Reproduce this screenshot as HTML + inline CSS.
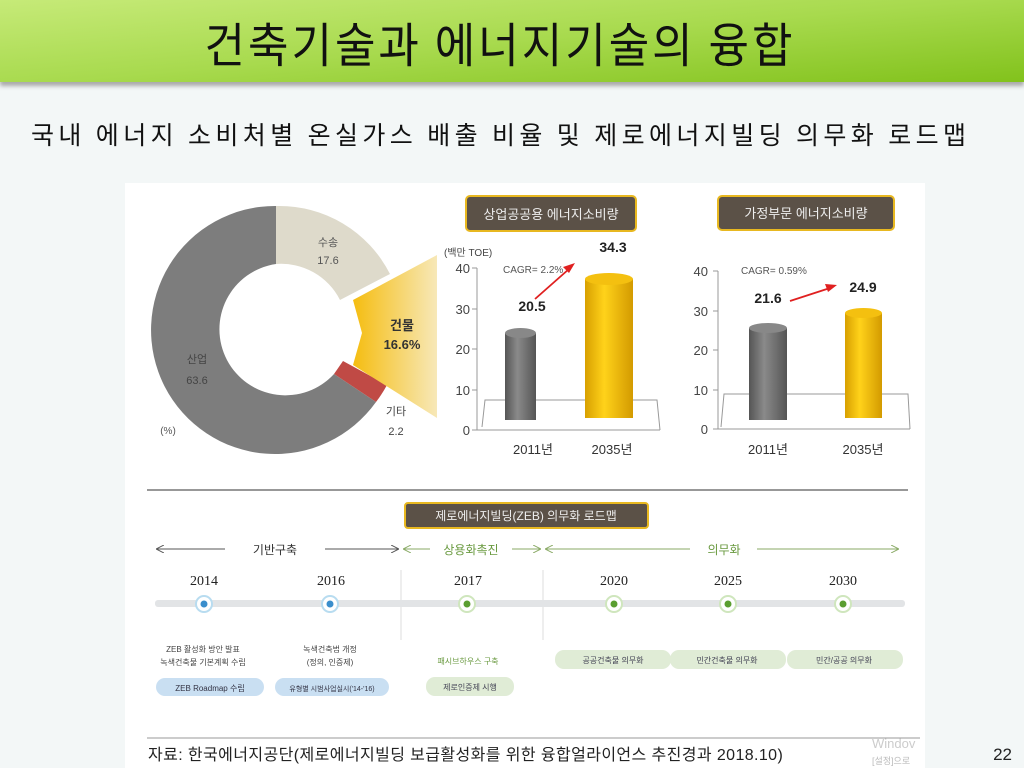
<!DOCTYPE html>
<html><head><meta charset="utf-8"><style>
body{margin:0;width:1024px;height:768px;overflow:hidden;background:#f3f7f7;font-family:"Liberation Sans","Noto Sans CJK KR",sans-serif;position:relative}
.t{position:absolute;white-space:nowrap}
</style></head><body>
<div style="position:absolute;left:0;top:0;width:1024px;height:82px;background:linear-gradient(175deg,#c6ea78 0%,#a8da4e 50%,#82c21c 100%);box-shadow:0 4px 4px #aaa"></div>
<div class="t" style="left:0;width:1000px;text-align:center;top:10px;font-size:44px;letter-spacing:3px;color:#111;font-family:'Noto Sans CJK KR',sans-serif;transform:scaleY(1.08)">건축기술과 에너지기술의 융합</div>
<div class="t" style="left:31px;top:116px;font-size:25px;letter-spacing:4.4px;color:#111;font-family:'Noto Sans CJK KR',sans-serif">국내 에너지 소비처별 온실가스 배출 비율 및 제로에너지빌딩 의무화 로드맵</div>
<div style="position:absolute;left:125px;top:183px;width:800px;height:585px;background:#fff"></div>
<svg style="position:absolute;left:0;top:0" width="1024" height="768" font-family="Liberation Sans,Noto Sans CJK KR,sans-serif">
<defs>
<linearGradient id="yg" x1="0" x2="1"><stop offset="0" stop-color="#f5bd10"/><stop offset="1" stop-color="#f7e8b8"/></linearGradient>
<linearGradient id="gc" x1="0" x2="1"><stop offset="0" stop-color="#555"/><stop offset=".4" stop-color="#8a8a8a"/><stop offset="1" stop-color="#555"/></linearGradient>
<linearGradient id="yc" x1="0" x2="1"><stop offset="0" stop-color="#d8a000"/><stop offset=".4" stop-color="#ffd21a"/><stop offset="1" stop-color="#d39a00"/></linearGradient>
<marker id="ah" markerWidth="8" markerHeight="8" refX="7" refY="4" orient="auto"><path d="M0,0 L8,4 L0,8" fill="none" stroke="#555"/></marker>
<marker id="ag" markerWidth="8" markerHeight="8" refX="7" refY="4" orient="auto"><path d="M0,0 L8,4 L0,8" fill="none" stroke="#8aaa66"/></marker>
</defs>
<path d="M276 206 A124 124 0 0 1 390 274 L340 300 A66 66 0 0 0 276 264 Z" fill="#dedacb"/>
<path d="M343 361 L387 385 A124 124 0 0 1 376 402 L334 374 Z" fill="#c04a45"/>
<path d="M334 374 L376 402 A124 124 0 1 1 276 206 L276 264 A66 66 0 1 0 334 374 Z" fill="#7d7d7d"/>
<polygon points="353,300 437,255 437,418 353,365 362,333" fill="url(#yg)"/>
<text x="328" y="246" font-size="11" fill="#555" text-anchor="middle">수송</text>
<text x="328" y="264" font-size="11" fill="#555" text-anchor="middle">17.6</text>
<text x="402" y="330" font-size="13" font-weight="bold" fill="#333" text-anchor="middle">건물</text>
<text x="402" y="349" font-size="13" font-weight="bold" fill="#333" text-anchor="middle">16.6%</text>
<text x="197" y="363" font-size="11" fill="#444" text-anchor="middle">산업</text>
<text x="197" y="384" font-size="11" fill="#444" text-anchor="middle">63.6</text>
<text x="396" y="415" font-size="11" fill="#444" text-anchor="middle">기타</text>
<text x="396" y="435" font-size="11" fill="#444" text-anchor="middle">2.2</text>
<text x="168" y="434" font-size="10" fill="#555" text-anchor="middle">(%)</text>
<rect x="466" y="196" width="170" height="35" rx="4" fill="#5b5147" stroke="#e8b820" stroke-width="2"/>
<text x="551" y="219" font-size="13" fill="#eee" text-anchor="middle">상업공공용 에너지소비량</text>
<text x="444" y="256" font-size="10" fill="#444">(백만 TOE)</text>
<g font-size="13" fill="#444" text-anchor="end">
<text x="470" y="273">40</text><text x="470" y="314">30</text><text x="470" y="354">20</text><text x="470" y="395">10</text><text x="470" y="435">0</text></g>
<line x1="477" y1="268" x2="477" y2="430" stroke="#999"/>
<g stroke="#999"><line x1="472" y1="268" x2="477" y2="268"/><line x1="472" y1="309" x2="477" y2="309"/><line x1="472" y1="349" x2="477" y2="349"/><line x1="472" y1="390" x2="477" y2="390"/><line x1="472" y1="430" x2="477" y2="430"/></g>
<line x1="477" y1="430" x2="660" y2="430" stroke="#999"/>
<polyline points="482,427 485,400 657,400 660,430" fill="none" stroke="#999"/>
<rect x="505" y="333" width="31" height="87" fill="url(#gc)"/><ellipse cx="520.5" cy="333" rx="15.5" ry="5" fill="#888"/>
<rect x="585" y="279" width="48" height="139" fill="url(#yc)"/><ellipse cx="609" cy="279" rx="24" ry="6" fill="#f4c010"/>
<text x="503" y="273" font-size="10" fill="#555">CAGR= 2.2%</text>
<text x="532" y="311" font-size="14" font-weight="bold" fill="#222" text-anchor="middle">20.5</text>
<text x="613" y="252" font-size="14" font-weight="bold" fill="#222" text-anchor="middle">34.3</text>
<line x1="535" y1="299" x2="569" y2="269" stroke="#e02020" stroke-width="1.8"/><polygon points="575,263 563,267 569,273" fill="#e02020"/>
<text x="533" y="454" font-size="13" fill="#333" text-anchor="middle">2011년</text>
<text x="612" y="454" font-size="13" fill="#333" text-anchor="middle">2035년</text>
<rect x="718" y="196" width="176" height="34" rx="4" fill="#5b5147" stroke="#e8b820" stroke-width="2"/>
<text x="806" y="218" font-size="13" fill="#eee" text-anchor="middle">가정부문 에너지소비량</text>
<g font-size="13" fill="#444" text-anchor="end">
<text x="708" y="276">40</text><text x="708" y="316">30</text><text x="708" y="355">20</text><text x="708" y="395">10</text><text x="708" y="434">0</text></g>
<line x1="718" y1="271" x2="718" y2="429" stroke="#999"/>
<g stroke="#999"><line x1="713" y1="271" x2="718" y2="271"/><line x1="713" y1="311" x2="718" y2="311"/><line x1="713" y1="350" x2="718" y2="350"/><line x1="713" y1="390" x2="718" y2="390"/><line x1="713" y1="429" x2="718" y2="429"/></g>
<line x1="718" y1="429" x2="910" y2="429" stroke="#999"/>
<polyline points="721,427 724,394 908,394 910,429" fill="none" stroke="#999"/>
<rect x="749" y="328" width="38" height="92" fill="url(#gc)"/><ellipse cx="768" cy="328" rx="19" ry="5" fill="#888"/>
<rect x="845" y="313" width="37" height="105" fill="url(#yc)"/><ellipse cx="863.5" cy="313" rx="18.5" ry="5" fill="#f4c010"/>
<text x="741" y="274" font-size="10" fill="#555">CAGR= 0.59%</text>
<text x="768" y="303" font-size="14" font-weight="bold" fill="#222" text-anchor="middle">21.6</text>
<text x="863" y="292" font-size="14" font-weight="bold" fill="#222" text-anchor="middle">24.9</text>
<line x1="790" y1="301" x2="830" y2="288" stroke="#e02020" stroke-width="1.8"/><polygon points="837,285 825,284 828,292" fill="#e02020"/>
<text x="768" y="454" font-size="13" fill="#333" text-anchor="middle">2011년</text>
<text x="863" y="454" font-size="13" fill="#333" text-anchor="middle">2035년</text>
<line x1="147" y1="490" x2="908" y2="490" stroke="#777" stroke-width="1.5"/>
<rect x="405" y="503" width="243" height="25" rx="3" fill="#5b5147" stroke="#e8b820" stroke-width="2"/>
<text x="526" y="520" font-size="12" fill="#eee" text-anchor="middle">제로에너지빌딩(ZEB) 의무화 로드맵</text>
<line x1="225" y1="549" x2="157" y2="549" stroke="#555" marker-end="url(#ah)"/>
<line x1="325" y1="549" x2="398" y2="549" stroke="#555" marker-end="url(#ah)"/>
<text x="275" y="554" font-size="12" fill="#333" text-anchor="middle">기반구축</text>
<line x1="430" y1="549" x2="404" y2="549" stroke="#8aaa66" marker-end="url(#ag)"/>
<line x1="512" y1="549" x2="540" y2="549" stroke="#8aaa66" marker-end="url(#ag)"/>
<line x1="690" y1="549" x2="546" y2="549" stroke="#8aaa66" marker-end="url(#ag)"/>
<line x1="757" y1="549" x2="898" y2="549" stroke="#8aaa66" marker-end="url(#ag)"/>
<text x="471" y="554" font-size="12" fill="#6a9a40" text-anchor="middle">상용화촉진</text>
<text x="724" y="554" font-size="12" fill="#6a9a40" text-anchor="middle">의무화</text>
<line x1="401" y1="570" x2="401" y2="640" stroke="#ddd"/><line x1="543" y1="570" x2="543" y2="640" stroke="#ddd"/>
<rect x="155" y="600" width="750" height="7" rx="3" fill="#e2e4e6"/>
<g font-family="Liberation Serif,serif" font-size="14" fill="#222" text-anchor="middle">
<text x="204" y="585">2014</text><text x="331" y="585">2016</text><text x="468" y="585">2017</text><text x="614" y="585">2020</text><text x="728" y="585">2025</text><text x="843" y="585">2030</text></g>
<g><circle cx="204" cy="604" r="8" fill="#fff" stroke="#b8dcf0" stroke-width="2"/><circle cx="204" cy="604" r="3.5" fill="#3a8ecc"/>
<circle cx="330" cy="604" r="8" fill="#fff" stroke="#b8dcf0" stroke-width="2"/><circle cx="330" cy="604" r="3.5" fill="#3a8ecc"/>
<circle cx="467" cy="604" r="8" fill="#fff" stroke="#cfe6bd" stroke-width="2"/><circle cx="467" cy="604" r="3.5" fill="#5a9e30"/>
<circle cx="614" cy="604" r="8" fill="#fff" stroke="#cfe6bd" stroke-width="2"/><circle cx="614" cy="604" r="3.5" fill="#5a9e30"/>
<circle cx="728" cy="604" r="8" fill="#fff" stroke="#cfe6bd" stroke-width="2"/><circle cx="728" cy="604" r="3.5" fill="#5a9e30"/>
<circle cx="843" cy="604" r="8" fill="#fff" stroke="#cfe6bd" stroke-width="2"/><circle cx="843" cy="604" r="3.5" fill="#5a9e30"/></g>
<g font-size="8" fill="#444" text-anchor="middle">
<text x="203" y="652">ZEB 활성화 방안 발표</text><text x="203" y="665">녹색건축물 기본계획 수립</text>
<text x="330" y="652">녹색건축법 개정</text><text x="330" y="665">(정의, 인증제)</text></g>
<rect x="156" y="678" width="108" height="18" rx="9" fill="#c9dff2"/><text x="210" y="691" font-size="8" fill="#334" text-anchor="middle">ZEB Roadmap 수립</text>
<rect x="275" y="678" width="114" height="18" rx="9" fill="#c9dff2"/><text x="332" y="691" font-size="7" fill="#334" text-anchor="middle">유형별 시범사업실시('14-'16)</text>
<text x="468" y="664" font-size="8" fill="#6a9a40" text-anchor="middle">패시브하우스 구축</text>
<rect x="426" y="677" width="88" height="19" rx="9" fill="#e0ecd6"/><text x="470" y="690" font-size="8" fill="#445" text-anchor="middle">제로인증제 시행</text>
<rect x="555" y="650" width="116" height="19" rx="9" fill="#e0ecd6"/><text x="613" y="663" font-size="8" fill="#445" text-anchor="middle">공공건축물 의무화</text>
<rect x="670" y="650" width="116" height="19" rx="9" fill="#e0ecd6"/><text x="727" y="663" font-size="8" fill="#445" text-anchor="middle">민간건축물 의무화</text>
<rect x="787" y="650" width="116" height="19" rx="9" fill="#e0ecd6"/><text x="844" y="663" font-size="8" fill="#445" text-anchor="middle">민간/공공 의무화</text>
<line x1="147" y1="738" x2="920" y2="738" stroke="#999"/>
<text x="148" y="760" font-size="16" letter-spacing="0.4" fill="#222">자료: 한국에너지공단(제로에너지빌딩 보급활성화를 위한 융합얼라이언스 추진경과 2018.10)</text>
<text x="872" y="748" font-size="13" fill="#ccc">Windov</text>
<text x="872" y="764" font-size="9" fill="#bbb">[설정]으로</text>
<text x="1012" y="760" font-size="17" fill="#222" text-anchor="end">22</text>
</svg>
</body></html>
